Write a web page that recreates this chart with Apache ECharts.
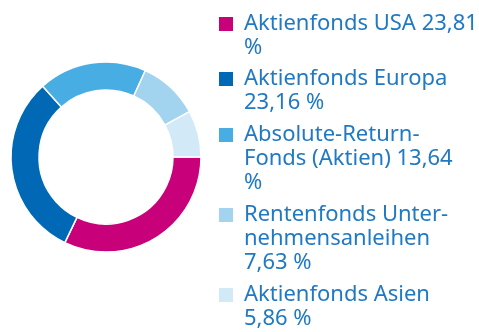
<!DOCTYPE html>
<html>
<head>
<meta charset="utf-8">
<script src="https://cdn.jsdelivr.net/npm/echarts@6/dist/echarts.min.js"></script>
<style>
  html, body { margin: 0; padding: 0; background: #fff; }
  #chart { width: 479px; height: 332px; }
</style>
</head>
<body>
<div id="chart"></div>
<script>
// Fund allocation (percent)
const categories = [
  'Aktienfonds USA',
  'Aktienfonds Europa',
  'Absolute-Return-Fonds (Aktien)',
  'Rentenfonds Unternehmensanleihen',
  'Aktienfonds Asien'
];
const values = [23.81, 23.16, 13.64, 7.63, 5.86];
// Legend text, wrapped into lines
const legendLines = [
  ['Aktienfonds USA 23,81', '%'],
  ['Aktienfonds Europa', '23,16 %'],
  ['Absolute-Return-', 'Fonds (Aktien) 13,64', '%'],
  ['Rentenfonds Unter-', 'nehmensanleihen', '7,63 %'],
  ['Aktienfonds Asien', '5,86 %']
];
const colors = ['#c8007a', '#0068b4', '#48ade2', '#a2d4f0', '#d2e9f7'];

const FONT = '"Noto Sans", sans-serif';
const LINE_H = 24;
const ICON = 14;
const ICON_SLOT = 20;               // square plus the gap before the text
const iconCenters = [24, 79, 135, 215, 295];

// square on the left of a wider slot; the stray point only widens the box
const squareIcon = 'path://M0,0h14v14h-14z M20,14h0';

const legends = categories.map((name, i) => {
  const n = legendLines[i].length;
  // legend text is centred on the icon, so blank lines on top
  // bring the first line level with the square
  const text = '\n'.repeat(n - 1) + legendLines[i].join('\n');
  const blockTop = ICON / 2 - (2 * n - 1) * LINE_H / 2;
  return {
    data: [name],
    orient: 'vertical',
    left: 219,
    top: iconCenters[i] - ICON / 2 + blockTop,
    padding: 0,
    icon: squareIcon,
    itemWidth: ICON_SLOT,
    itemHeight: ICON,
    selectedMode: false,
    itemStyle: { borderWidth: 0 },
    formatter: () => text,
    textStyle: {
      fontFamily: FONT,
      fontSize: 22,
      lineHeight: LINE_H,
      color: '#2079c3'
    }
  };
});

const chart = echarts.init(document.getElementById('chart'), null, { renderer: 'canvas' });
chart.setOption({
  animation: false,
  color: colors,
  legend: legends,
  series: [{
    type: 'pie',
    center: [106, 157],
    radius: [67, 95],
    startAngle: 0,
    clockwise: true,
    label: { show: false },
    labelLine: { show: false },
    emphasis: { disabled: true },
    itemStyle: { borderColor: '#ffffff', borderWidth: 1.5 },
    data: categories.map((name, i) => ({ name, value: values[i] }))
  }]
});
</script>
</body>
</html>
